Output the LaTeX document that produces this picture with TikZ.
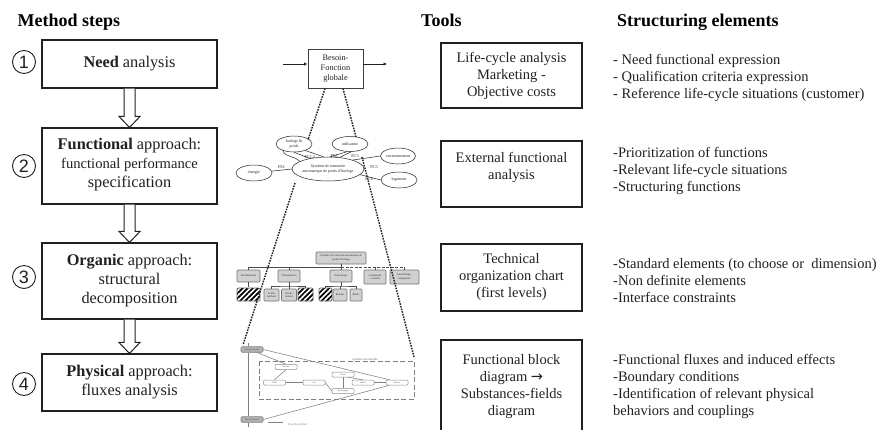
\documentclass[tikz,border=0pt]{standalone}
\usepackage{fontspec}
\setmainfont{Liberation Serif}
\newfontfamily\hlv{Liberation Sans}
\newfontfamily\djv{DejaVu Sans}
\usetikzlibrary{shapes.geometric,arrows.meta,patterns.meta,calc}
\newcommand{\fsz}[2]{\fontsize{#1}{#2}\selectfont}
\definecolor{ink}{gray}{0.13}
\definecolor{nodegray}{gray}{0.82}
\tikzset{
  hdr/.style={font=\fsz{18}{21}\bfseries, text=black, inner sep=0pt, anchor=base west},
  stepbox/.style={draw=ink, line width=1.1pt, fill=white, minimum width=175pt, align=center, inner sep=0pt, font=\fsz{16.3}{19}, text=ink},
  toolbox/.style={draw=ink, line width=1.1pt, fill=white, minimum width=141pt, align=center, inner sep=0pt, font=\fsz{14.5}{17}, text=ink},
  listtxt/.style={anchor=west, align=left, inner sep=0pt, font=\fsz{14.5}{17}, text=ink},
  numcirc/.style={draw=ink, circle, line width=0.9pt, minimum size=23pt, inner sep=0pt, font=\hlv\fsz{18}{20}, text=ink},
  hollow/.style={draw=ink, line width=1pt, fill=white, line join=miter},
  cone/.style={draw=ink, line width=1.4pt, dash pattern=on 1.6pt off 1.1pt},
  ell/.style={draw=ink, ellipse, line width=.5pt, inner sep=0pt, align=center, font=\fsz{4}{5}, fill=white, text=ink},
  lnk/.style={draw=ink, line width=.5pt},
  lab/.style={inner sep=0pt, font=\fsz{4.3}{5}, text=ink},
  org/.style={draw=black!55, fill=nodegray, rounded corners=1pt, line width=.7pt, inner sep=0pt, align=center, font=\fsz{2.8}{3.6}, text=black!80},
  orghatch/.style={draw=black!60, line width=.6pt, rounded corners=1pt, inner sep=0pt, pattern={Lines[angle=45,distance=3.6pt,line width=1.7pt]}},
  orgline/.style={draw=black!70, line width=.7pt},
  blk/.style={draw=black!45, fill=white, rounded corners=1pt, line width=.5pt, inner sep=0pt, minimum width=22pt, minimum height=5pt, font=\hlv\fsz{2}{2.5}, text=black!60},
  blkgray/.style={draw=black!50, fill=black!30, rounded corners=1pt, line width=.6pt, inner sep=0pt, minimum width=22pt, minimum height=5.5pt, font=\hlv\fsz{2}{2.5}, text=black!70},
  blkline/.style={draw=black!50, line width=.55pt},
}
\newcommand{\hollowarrow}[2]{%
  \draw[hollow] ($(#1.south)+(-5.5,0)$) -- ($(#2.north)+(-5.5,-11)$) -- ($(#2.north)+(-10.5,-11)$) -- (#2.north)
     -- ($(#2.north)+(10.5,-11)$) -- ($(#2.north)+(5.5,-11)$) -- ($(#1.south)+(5.5,0)$);}
\begin{document}
\begin{tikzpicture}[x=1pt,y=-1pt]
\useasboundingbox (0,0) rectangle (880,429);
\fill[white] (0,0) rectangle (880,429);

% headers
\node[hdr] (h1) at (17.5,26.5) {Method steps};
\node[hdr] (h2) at (421,26.5) {Tools};
\node[hdr] (h3) at (617,26.5) {Structuring elements};

% method steps
\node[stepbox, minimum height=48pt] (s1) at (129.5,64) {\textbf{Need} analysis};
\node[stepbox, minimum height=76pt] (s2) at (129.5,166) {\textbf{Functional} approach:\\\fsz{14.6}{18}functional performance\\specification\\[-12pt]\mbox{}};
\node[stepbox, minimum height=76pt] (s3) at (129.5,281) {\textbf{Organic} approach:\\structural\\decomposition};
\node[stepbox, minimum height=57pt] (s4) at (129.5,382.5) {\textbf{Physical} approach:\\fluxes analysis};
\hollowarrow{s1}{s2}
\hollowarrow{s2}{s3}
\hollowarrow{s3}{s4}

\node[numcirc] (n1) at (24,62) {1};
\node[numcirc] (n2) at (24,166) {2};
\node[numcirc] (n3) at (24,277) {3};
\node[numcirc] (n4) at (24,384) {4};

% tools
\node[toolbox, minimum height=65pt] (t1) at (511.5,75.5) {Life-cycle analysis\\Marketing -\\Objective costs};
\node[toolbox, minimum height=66pt] (t2) at (511.5,174) {External functional\\analysis\\\mbox{}};
\node[toolbox, minimum height=67pt] (t3) at (511.5,277.5) {Technical\\organization chart\\(first levels)};
\node[toolbox, minimum height=94pt] (t4) at (511.5,387) {Functional block\\diagram {\djv →}\\Substances-fields\\diagram};

% lists
\node[listtxt] (l1) at (613,78) {- Need functional expression\\- Qualification criteria expression\\- Reference life-cycle situations (customer)};
\node[listtxt] (l2) at (613,171) {-Prioritization of functions\\-Relevant life-cycle situations\\-Structuring functions};
\node[listtxt] (l3) at (613,281) {-Standard elements (to choose or~~dimension)\\-Non definite elements\\-Interface constraints};
\node[listtxt] (l4) at (613,386) {-Functional fluxes and induced effects\\-Boundary conditions\\-Identification of relevant physical\\behaviors and couplings};

% --- need block
\node[draw=black!75, line width=.9pt, minimum width=55pt, minimum height=39pt, inner sep=0pt, align=center, font=\fsz{8.3}{10}, text=ink] (need) at (335.5,68.5) {Besoin-\\Fonction\\globale};
\coordinate (ni) at (283,64);
\coordinate (no) at (387,64);
\draw[ink, line width=.8pt, -{Latex[length=3.5pt,width=3.5pt]}] (ni) -- (need.west |- ni);
\draw[ink, line width=.8pt, -{Latex[length=3.5pt,width=3.5pt]}] (need.east |- no) -- (no);

% --- external functional analysis
\node[ell, minimum width=65pt, minimum height=24pt] (sys) at (328,169) {Système de remontée\\automatique de poids d'horloge};
\node[ell, minimum width=36pt, minimum height=16pt] (hor) at (294,144) {horloge \&\\poids};
\node[ell, minimum width=36pt, minimum height=15pt] (uti) at (350,144) {utilisateur};
\node[ell, minimum width=35pt, minimum height=16pt] (env) at (398,156) {environnement};
\node[ell, minimum width=36pt, minimum height=16pt] (log) at (399,180) {logement};
\node[ell, minimum width=36pt, minimum height=16pt] (ene) at (254,173) {énergie};
\draw[lnk] (ene) -- (sys.west);
\draw[lnk] (hor.210) to[out=-70,in=130] (sys.165);
\draw[lnk] (hor.south) -- (sys.150);
\draw[lnk] (hor.-30) -- (sys.110);
\draw[lnk] (uti.250) -- (sys.80);
\draw[lnk] (uti.280) -- (sys.45);
\draw[lnk] (env.west) -- (sys.20);
\draw[lnk] (log.west) -- (sys.-10);
\node[lab] (fs1) at (281.5,167) {FS1};
\node[lab] (fc12) at (310,157) {FC1,2};
\node[lab] (fs2) at (334,156) {FS2};
\node[lab] (fc3) at (355,156) {FC3};
\node[lab] (fc5) at (374,167) {FC5};
\node[lab] (fc4) at (369,179) {FC4};

% --- organization chart
\node[org, minimum width=50pt, minimum height=12pt] (oroot) at (341,258) {Système de remontée automatique de\\poids d'horloge};
\node[org, minimum width=23pt, minimum height=12pt] (o1) at (248.5,276) {Entraînement};
\node[org, minimum width=22pt, minimum height=12pt] (o2) at (289,276) {Transmission};
\node[org, minimum width=22pt, minimum height=12pt] (o3) at (341,276) {Embrayage};
\node[org, minimum width=22pt, minimum height=14pt] (o4) at (375,277) {Commande\\- contrôle};
\node[org, minimum width=29pt, minimum height=14pt] (o5) at (404.5,277) {Assemblage -\\intégration};
\node[orghatch, minimum width=23pt, minimum height=13pt] (h11) at (248.5,294.5) {};
\node[org, minimum width=15pt, minimum height=12pt] (o21) at (271.5,295) {Poulie\\tambour};
\node[org, minimum width=15pt, minimum height=12pt] (o22) at (289,295) {Poulie\\moteur};
\node[orghatch, minimum width=15pt, minimum height=13pt] (h23) at (305.5,294.5) {};
\node[orghatch, minimum width=13pt, minimum height=13pt] (h31) at (325.5,294.5) {};
\node[org, minimum width=14pt, minimum height=12pt] (o32) at (340,295) {Ressort};
\node[org, minimum width=12pt, minimum height=12pt] (o33) at (356,295) {Bielle};
\coordinate (bus1) at (248.5,267);
\coordinate (bus2) at (404.5,267);
\draw[orgline] (oroot.south) -- (oroot.south |- bus1);
\draw[orgline] (o1.north) -- (bus1) -- (oroot.south |- bus1);
\draw[orgline] (o2.north) -- (o2.north |- bus1);
\draw[orgline] (o3.north) -- (o3.north |- bus1);
\draw[orgline, dash pattern=on 3pt off 1.5pt] (oroot.south |- bus1) -- (bus2) -- (o5.north);
\draw[orgline] (o4.north) -- (o4.north |- bus1);
\draw[orgline] (o1.south) -- (h11.north);
\coordinate (b2) at (289,286);
\coordinate (b3) at (341,286);
\draw[orgline] (o2.south) -- (b2);
\draw[orgline] (o3.south) -- (b3);
\draw[orgline] (o21.north) |- (b2) -| (h23.north);
\draw[orgline] (o22.north) -- (b2);
\draw[orgline] (h31.north) |- (b3) -| (o33.north);
\draw[orgline] (o32.north) -- (o32.north |- b3);

% --- block diagram
\draw[draw=black!50, line width=1pt, dash pattern=on 5pt off 2.5pt] (259,361) rectangle (414,399);
\node[inner sep=0pt, font=\hlv\fsz{2.6}{3}, text=black!60] (blab) at (365,359.5) {Système de remontée};
\node[blkgray] (gt) at (252,349.5) {Horloge \& poids};
\node[blkgray] (gb) at (252,419.5) {Environnement};
\node[blk] (ba) at (286,367) {Tambour};
\node[blk] (bb) at (274.5,382.5) {Câble};
\node[blk] (bc) at (314,382.5) {Axe};
\node[blk] (bd) at (343,374.5) {Poulie};
\node[blk] (be) at (343,391) {Embrayage};
\node[blk] (bf) at (363,382.5) {Moteur};
\node[blk] (bg) at (397,382.5) {Moteur};
\coordinate (vt) at (248,343);
\coordinate (vb) at (248,427);
\draw[blkline, line width=.9pt] (vt) -- (gt.north -| vt);
\draw[blkline, line width=.9pt] (gt.south -| vt) -- (gb.north -| vt);
\draw[blkline, line width=.9pt] (gb.south -| vt) -- (vb);
\draw[blkline] (gt.east) -- (bg.160);
\draw[blkline] (gt.-30) -- (ba.north);
\draw[blkline] (ba.south) -- (bb.north);
\draw[blkline] (bb.east) -- (bc.west);
\draw[blkline] (bc.east) -- (be.west);
\draw[blkline] (bd.south) -- (be.north);
\draw[blkline] (bd.-30) -- (bf.north);
\draw[blkline] (bf.east) -- (bg.west);
\draw[blkline] (gb.east) -- (bg.200);
\coordinate (fl1) at (268,422);
\coordinate (fl2) at (283,422);
\draw[blkline] (fl1) -- (fl2);
\node[inner sep=0pt, anchor=west, font=\hlv\fsz{2.8}{3}, text=black!50] (flt) at (288,425) {Flux du produit};

% --- dotted cones
\coordinate (c1) at (325,88.5);
\coordinate (c2) at (308,140);
\coordinate (c3) at (343,88.5);
\coordinate (c4) at (356,137);
\coordinate (c5) at (295,183);
\coordinate (c7) at (243,345);
\coordinate (c8) at (362,157);
\coordinate (c11) at (414,357);
\draw[cone] (c1) -- (c2);
\draw[cone] (c3) -- (c4);
\draw[cone] (c8) -- (c11);
\draw[cone] (c5) -- (c7);
\end{tikzpicture}
\end{document}
